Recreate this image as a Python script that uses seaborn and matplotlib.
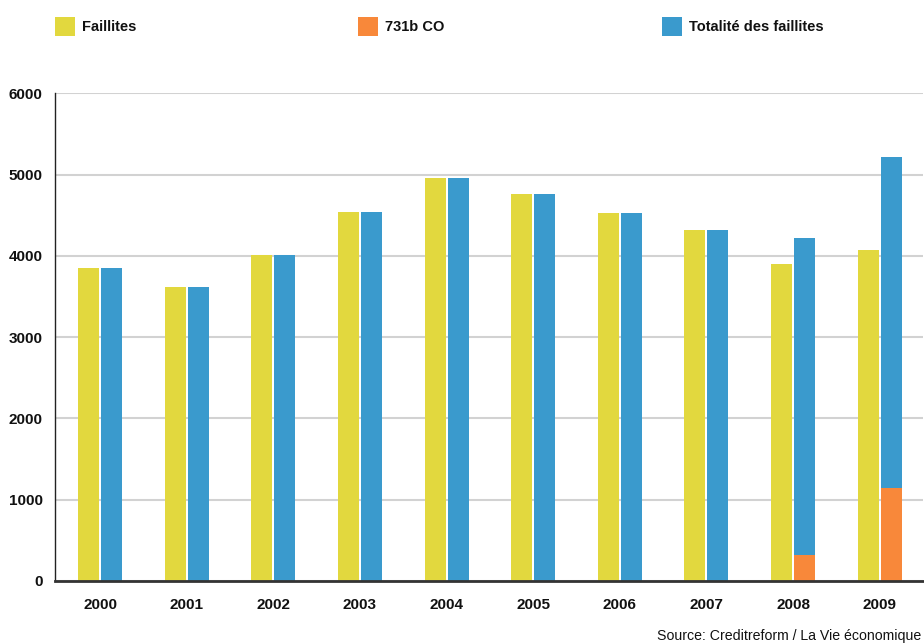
import matplotlib
matplotlib.use("Agg")
import matplotlib.pyplot as plt
from matplotlib.patches import Rectangle
from matplotlib import font_manager
import seaborn as sns
import pandas as pd

# Data
years = ["2000", "2001", "2002", "2003", "2004", "2005", "2006", "2007", "2008", "2009"]
faillites = [3850, 3620, 4010, 4540, 4960, 4760, 4530, 4320, 3900, 4070]
art_731b = [0, 0, 0, 0, 0, 0, 0, 0, 320, 1150]
totalite = [3850, 3620, 4010, 4540, 4960, 4760, 4530, 4320, 4220, 5220]
yticks = [0, 1000, 2000, 3000, 4000, 5000, 6000]
series_names = ["Faillites", "731b CO", "Totalité des faillites"]

YELLOW = "#E2D83E"
ORANGE = "#F8883A"
BLUE = "#3A9ACD"

sns.set_theme(style="white")
available = {f.name for f in font_manager.fontManager.ttflist}
narrow = "Liberation Sans Narrow" if "Liberation Sans Narrow" in available else "Liberation Sans"
plt.rcParams["font.family"] = [narrow, "DejaVu Sans"]

fig = plt.figure(figsize=(9.24, 6.44), dpi=100)
W, H = 924, 644
ax = fig.add_axes([55 / W, 63 / H, (923 - 55) / W, (581 - 93.3) / H])

df = pd.DataFrame({
    "year": years * 2,
    "value": faillites + totalite,
    "serie": [series_names[0]] * len(years) + [series_names[2]] * len(years),
})
sns.barplot(
    data=df, x="year", y="value", hue="serie",
    hue_order=[series_names[0], series_names[2]],
    palette=[YELLOW, BLUE], width=0.532, gap=0.09,
    saturation=1, legend=False, ax=ax, errorbar=None, linewidth=0,
)

# 731b CO share drawn over the lower part of the total bars
df_o = pd.DataFrame({
    "year": years * 2,
    "value": [0] * len(years) + art_731b,
    "serie": [series_names[0]] * len(years) + [series_names[1]] * len(years),
})
sns.barplot(
    data=df_o, x="year", y="value", hue="serie",
    hue_order=[series_names[0], series_names[1]],
    palette=[YELLOW, ORANGE], width=0.532, gap=0.09,
    saturation=1, legend=False, ax=ax, errorbar=None, linewidth=0,
)

ax.set_xlim(-0.52, 9.5)
ax.set_ylim(0, 6000)
ax.set_yticks(yticks)
ax.set_yticklabels([str(v) for v in yticks])
ax.set_xlabel("")
ax.set_ylabel("")
ax.yaxis.grid(True, color="#d2d2d2", linewidth=1.5)
ax.set_axisbelow(True)
for s in ["top", "right"]:
    ax.spines[s].set_visible(False)
ax.spines["left"].set_color("#222222")
ax.spines["left"].set_linewidth(1.0)
ax.spines["bottom"].set_color("#333333")
ax.spines["bottom"].set_linewidth(2.0)
ax.tick_params(axis="both", length=0, labelsize=11, colors="#111111")
ax.tick_params(axis="y", pad=9)
ax.tick_params(axis="x", pad=12)
for lab in ax.get_xticklabels() + ax.get_yticklabels():
    lab.set_fontweight("bold")

# Legend row
legend_items = [(55, YELLOW, series_names[0]), (358, ORANGE, series_names[1]), (662, BLUE, series_names[2])]
for x0, col, name in legend_items:
    fig.patches.append(Rectangle((x0 / W, 1 - 36 / H), 20 / W, 19 / H,
                                 transform=fig.transFigure, facecolor=col, edgecolor="none"))
    fig.text((x0 + 27) / W, 1 - 27 / H, name, fontsize=10.5, fontweight="bold",
             va="center", ha="left", color="#111111")

fig.text(921 / W, 1 - 636 / H, "Source: Creditreform / La Vie économique",
         fontsize=10.2, ha="right", va="center", color="#111111")

fig.savefig("out.png", dpi=100)
